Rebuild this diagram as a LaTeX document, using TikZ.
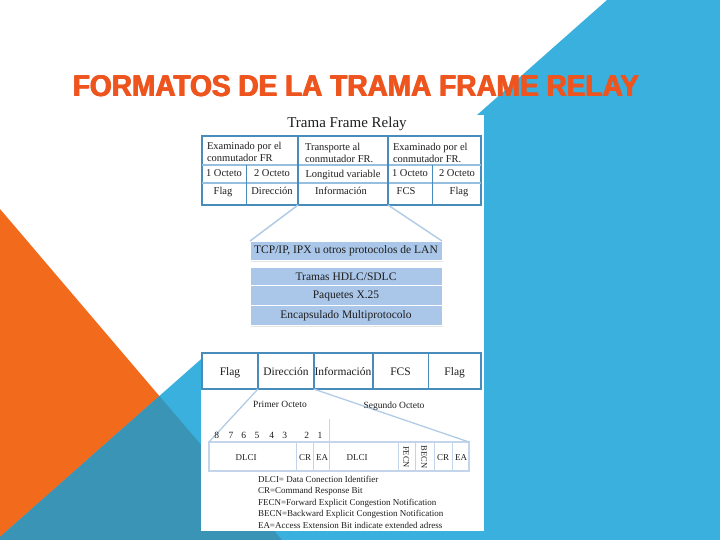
\documentclass[tikz,border=0pt]{standalone}
\usepackage{graphicx}
\usepackage{fontspec}
\setmainfont{Liberation Serif}
\newfontfamily\titlefont{Liberation Sans}
\usetikzlibrary{shadows}
\definecolor{bgblue}{RGB}{58,176,222}
\definecolor{bgorange}{RGB}{242,107,29}
\definecolor{bgteal}{RGB}{58,148,181}
\definecolor{titlecol}{RGB}{238,84,30}
\definecolor{framedark}{RGB}{72,140,188}
\definecolor{framelight}{RGB}{150,190,222}
\definecolor{layerfill}{RGB}{170,198,232}
\definecolor{zoomline}{RGB}{178,204,230}
\definecolor{bitline}{RGB}{196,212,234}
\definecolor{inktext}{RGB}{30,30,30}
\newcommand{\titletext}{\resizebox{566pt}{21pt}{\titlefont\bfseries FORMATOS DE LA TRAMA FRAME RELAY}}
\tikzset{
  hdr/.style={font=\fontsize{10.5}{12}\selectfont, align=left, anchor=west, text=inktext},
  cell/.style={font=\fontsize{10.5}{12}\selectfont, text=inktext, text height=7.5pt, text depth=2.5pt},
  fld/.style={font=\fontsize{11.5}{13}\selectfont, text=inktext, text height=8pt, text depth=2.5pt},
  small/.style={font=\fontsize{9.5}{11}\selectfont, text=inktext, text height=6.5pt, text depth=2pt},
  bitlbl/.style={font=\fontsize{9}{10}\selectfont, text=inktext, text height=6.5pt, text depth=0pt},
  legend/.style={font=\fontsize{9}{11}\selectfont, anchor=west, text=inktext},
  layer/.style={fill=layerfill, draw=white, line width=0.6pt, minimum width=192pt,
    font=\fontsize{11.5}{13}\selectfont, text=inktext,
    drop shadow={shadow xshift=1pt, shadow yshift=-1.5pt, opacity=0.2}},
  darkframe/.style={draw=framedark, line width=1.8pt},
  lightrule/.style={draw=framelight, line width=1.5pt},
  zoomrule/.style={draw=zoomline, line width=1.5pt},
  bitrule/.style={draw=bitline, line width=1pt},
  titlestyle/.style={text=titlecol},
}
\begin{document}
\begin{tikzpicture}[x=1pt,y=-1pt, every node/.style={inner sep=0pt, outer sep=0pt}]
\useasboundingbox (0,0) rectangle (720,540);
% background
\fill[white] (0,0) rectangle (720,540);
\fill[bgorange] (0,209) -- (282,540) -- (0,540) -- cycle;
\fill[bgblue] (607,0) -- (720,0) -- (720,540) -- (0,540) -- (0,537) -- cycle;
\fill[bgteal] (0,537) -- (159.4,396) -- (282,540) -- (0,540) -- cycle;
% title (overlaid copies for a heavier stroke)
\node[titlestyle] (titleL) at (355.4,86) {\titletext};
\node[titlestyle] (titleR) at (356.6,86) {\titletext};
\node[titlestyle] (title) at (356,86.4) {\titletext};
% panel
\fill[white] (201,115) rectangle (484,531);
\node[font=\fontsize{15}{17}\selectfont, text=inktext] (ttl) at (347,124) {Trama Frame Relay};

% ---------- top table ----------
\node[darkframe, minimum width=279pt, minimum height=69pt] (toptab) at (341.5,170.5) {};
\coordinate (tA) at (298,136); \coordinate (tAb) at (298,205);
\coordinate (tB) at (388,136); \coordinate (tBb) at (388,205);
\draw[lightrule] (202,165) -- (481,165);
\draw[lightrule] (202,183) -- (481,183);
\draw[darkframe] (tA) -- (tAb);
\draw[darkframe] (tB) -- (tBb);
\draw[darkframe] (246.5,165) -- (246.5,205);
\draw[darkframe] (432.5,165) -- (432.5,205);
\node[hdr] (h1) at (207,151.5) {Examinado por el\\conmutador FR};
\node[hdr] (h2) at (305,152.5) {Transporte al\\conmutador FR.};
\node[hdr] (h3) at (393,152.5) {Examinado por el\\conmutador FR.};
\node[cell] (o1) at (224,174) {1 Octeto};
\node[cell] (o2) at (272,174) {2 Octeto};
\node[cell] (o3) at (343,175) {Longitud variable};
\node[cell] (o4) at (410,174) {1 Octeto};
\node[cell] (o5) at (457,174) {2 Octeto};
\node[cell] (f1) at (223,192.5) {Flag};
\node[cell] (f2) at (272,192.5) {Dirección};
\node[cell] (f3) at (341,192.5) {Información};
\node[cell] (f4) at (406,192.5) {FCS};
\node[cell] (f5) at (459,192.5) {Flag};

% ---------- layers ----------
\node[layer, minimum height=19pt] (tcp) at (346,250.5) {TCP/IP, IPX u otros protocolos de LAN};
\node[layer, minimum height=18.5pt] (hdlc) at (346,276.25) {Tramas HDLC/SDLC};
\node[layer, minimum height=20pt] (x25) at (346,295.5) {Paquetes X.25};
\node[layer, minimum height=20pt] (encap) at (346,315.5) {Encapsulado Multiprotocolo};
\draw[zoomrule] (tAb) -- (tcp.north west);
\draw[zoomrule] (tBb) -- (tcp.north east);

% ---------- bottom table ----------
\node[darkframe, minimum width=279pt, minimum height=36pt] (bottab) at (341.5,371) {};
\coordinate (bDir) at (258,353); \coordinate (bDirB) at (258,389);
\coordinate (bInf) at (313.6,353); \coordinate (bInfB) at (313.6,389);
\draw[darkframe] (bDir) -- (bDirB);
\draw[darkframe] (bInf) -- (bInfB);
\draw[darkframe] (372.8,353) -- (372.8,389);
\draw[darkframe] (428.4,353) -- (428.4,389);
\node[fld] (g1) at (230,373) {Flag};
\node[fld] (g2) at (286,373) {Dirección};
\node[fld] (g3) at (343,373) {Información};
\node[fld] (g4) at (400.5,373) {FCS};
\node[fld] (g5) at (454.7,373) {Flag};

% ---------- bit field ----------
\node[draw=bitline, line width=2pt, minimum width=260pt, minimum height=29pt] (bits) at (339,456.5) {};
\draw[zoomrule, line width=1.3pt] (bDirB) -- (bits.north west);
\draw[zoomrule, line width=1.3pt] (bInfB) -- (bits.north east);
\coordinate (sepTop) at (329.7,419);
\coordinate (sepBot) at (329.7,471);
\draw[bitrule, line width=1.2pt] (sepTop) -- (sepBot);
\foreach \xx in {296,313.6,398,415.5,434,452} \draw[bitrule] (\xx,442) -- (\xx,471);
\node[small] (po) at (280,405) {Primer Octeto};
\node[small] (so) at (394,406) {Segundo Octeto};
\foreach \xx/\nn [count=\i] in {216.7/8,231/7,243.8/6,257/5,271.8/4,284.7/3,306.7/2,320/1}
  \node[small] (n\i) at (\xx,436) {\nn};
\node[bitlbl] (d1) at (246,457) {DLCI};
\node[bitlbl] (c1) at (305,457) {CR};
\node[bitlbl] (e1) at (322,457) {EA};
\node[bitlbl] (d2) at (357,457) {DLCI};
\node[bitlbl, font=\fontsize{8.5}{10}\selectfont, rotate=-90] (fe) at (406.7,457) {FECN};
\node[bitlbl, font=\fontsize{8.5}{10}\selectfont, rotate=-90] (be) at (424.7,457) {BECN};
\node[bitlbl] (c2) at (443,457) {CR};
\node[bitlbl] (e2) at (461,457) {EA};

% ---------- legend ----------
\node[legend] (l1) at (258,479) {DLCI= Data Conection Identifier};
\node[legend] (l2) at (258,491) {CR=Command Response Bit};
\node[legend] (l3) at (258,503) {FECN=Forward Explicit Congestion Notification};
\node[legend] (l4) at (258,514) {BECN=Backward Explicit Congestion Notification};
\node[legend] (l5) at (258,525) {EA=Access Extension Bit indicate extended adress};
\end{tikzpicture}
\end{document}
